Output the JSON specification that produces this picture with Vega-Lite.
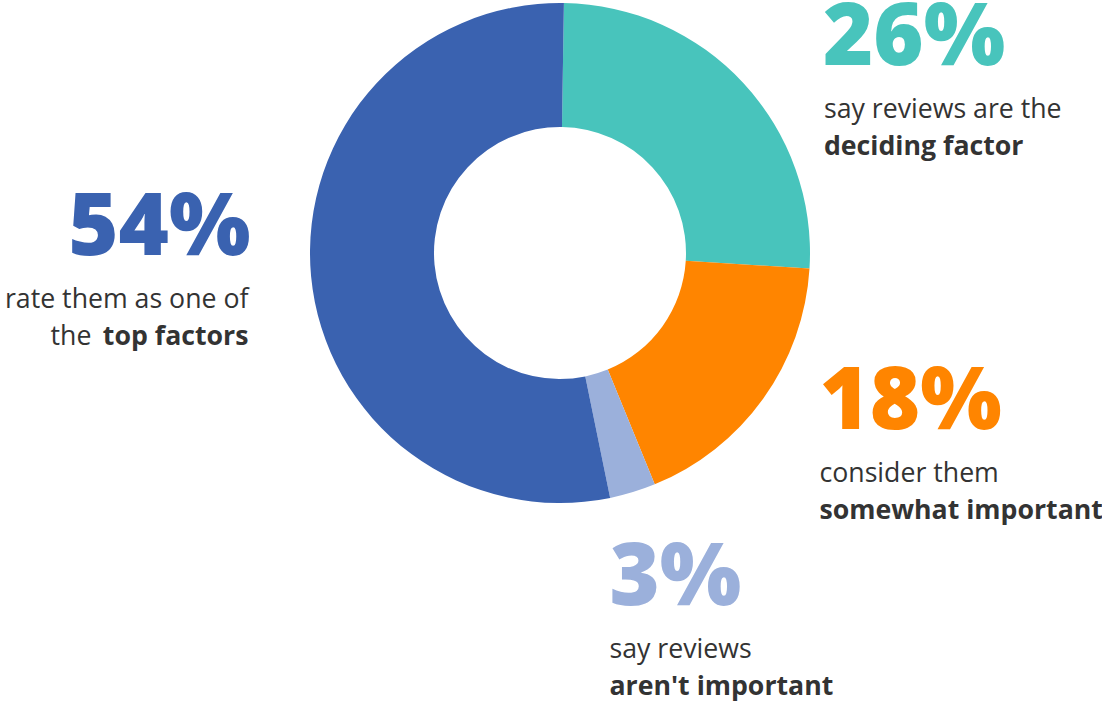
{
  "$schema": "https://vega.github.io/schema/vega-lite/v6.json",
  "autosize": "none",
  "padding": {"left": 18, "top": 3, "right": 0, "bottom": 199},
  "width": 1084,
  "height": 500,
  "background": "white",
  "config": {"view": {"stroke": null}, "text": {"font": "Open Sans"}},
  "data": {
    "values": [
      {"rank": 1, "category": "deciding", "share": 26, "pct": "26%", "line1": "say reviews are the", "line2": "deciding factor", "line2pre": ""},
      {"rank": 2, "category": "somewhat", "share": 18, "pct": "18%", "line1": "consider them", "line2": "somewhat important", "line2pre": ""},
      {"rank": 3, "category": "not", "share": 3, "pct": "3%", "line1": "say reviews", "line2": "aren't important", "line2pre": ""},
      {"rank": 4, "category": "top", "share": 54, "pct": "54%", "line1": "rate them as one of", "line2": "top factors", "line2pre": "the"}
    ]
  },
  "encoding": {
    "theta": {"field": "share", "type": "quantitative", "stack": true, "scale": {"range": [0.0157, 6.2989]}},
    "order": {"field": "rank", "type": "quantitative"},
    "detail": {"field": "category", "type": "nominal"},
    "color": {
      "field": "category",
      "type": "nominal",
      "scale": {"domain": ["deciding", "somewhat", "not", "top"], "range": ["#48C4BC", "#FF8500", "#9BB0DB", "#3A62B0"]},
      "legend": null
    }
  },
  "layer": [
    {"mark": {"type": "arc", "innerRadius": 126, "outerRadius": 250}},

    {"mark": {"type": "text", "radius": 250, "align": "left", "baseline": "alphabetic", "dx": 79.4, "dy": -17.8, "fontSize": 86, "fontWeight": 800},
     "encoding": {"text": {"condition": {"test": "datum.category === 'deciding'", "field": "pct", "type": "nominal"}, "value": ""}}},
    {"mark": {"type": "text", "radius": 250, "align": "left", "baseline": "alphabetic", "dx": 80.4, "dy": 35.2, "fontSize": 26.7},
     "encoding": {"color": {"value": "#333333"}, "text": {"condition": {"test": "datum.category === 'deciding'", "field": "line1", "type": "nominal"}, "value": ""}}},
    {"mark": {"type": "text", "radius": 250, "align": "left", "baseline": "alphabetic", "dx": 80.4, "dy": 72.2, "fontSize": 26.7, "fontWeight": "bold"},
     "encoding": {"color": {"value": "#333333"}, "text": {"condition": {"test": "datum.category === 'deciding'", "field": "line2", "type": "nominal"}, "value": ""}}},

    {"mark": {"type": "text", "radius": 250, "align": "left", "baseline": "alphabetic", "dx": 56.3, "dy": 29.8, "fontSize": 86, "fontWeight": 800},
     "encoding": {"text": {"condition": {"test": "datum.category === 'somewhat'", "field": "pct", "type": "nominal"}, "value": ""}}},
    {"mark": {"type": "text", "radius": 250, "align": "left", "baseline": "alphabetic", "dx": 56.3, "dy": 82.8, "fontSize": 26.7},
     "encoding": {"color": {"value": "#333333"}, "text": {"condition": {"test": "datum.category === 'somewhat'", "field": "line1", "type": "nominal"}, "value": ""}}},
    {"mark": {"type": "text", "radius": 250, "align": "left", "baseline": "alphabetic", "dx": 56.3, "dy": 119.8, "fontSize": 26.7, "fontWeight": "bold"},
     "encoding": {"color": {"value": "#333333"}, "text": {"condition": {"test": "datum.category === 'somewhat'", "field": "line2", "type": "nominal"}, "value": ""}}},

    {"mark": {"type": "text", "radius": 250, "align": "left", "baseline": "alphabetic", "dx": -23.3, "dy": 112.8, "fontSize": 86, "fontWeight": 800},
     "encoding": {"text": {"condition": {"test": "datum.category === 'not'", "field": "pct", "type": "nominal"}, "value": ""}}},
    {"mark": {"type": "text", "radius": 250, "align": "left", "baseline": "alphabetic", "dx": -23.3, "dy": 165.8, "fontSize": 26.7},
     "encoding": {"color": {"value": "#333333"}, "text": {"condition": {"test": "datum.category === 'not'", "field": "line1", "type": "nominal"}, "value": ""}}},
    {"mark": {"type": "text", "radius": 250, "align": "left", "baseline": "alphabetic", "dx": -23.3, "dy": 202.8, "fontSize": 26.7, "fontWeight": "bold"},
     "encoding": {"color": {"value": "#333333"}, "text": {"condition": {"test": "datum.category === 'not'", "field": "line2", "type": "nominal"}, "value": ""}}},

    {"mark": {"type": "text", "radius": 250, "align": "right", "baseline": "alphabetic", "dx": -60.6, "dy": -21.1, "fontSize": 86, "fontWeight": 800},
     "encoding": {"text": {"condition": {"test": "datum.category === 'top'", "field": "pct", "type": "nominal"}, "value": ""}}},
    {"mark": {"type": "text", "radius": 250, "align": "right", "baseline": "alphabetic", "dx": -62.6, "dy": 31.9, "fontSize": 26.7},
     "encoding": {"color": {"value": "#333333"}, "text": {"condition": {"test": "datum.category === 'top'", "field": "line1", "type": "nominal"}, "value": ""}}},
    {"mark": {"type": "text", "radius": 250, "align": "right", "baseline": "alphabetic", "dx": -62.6, "dy": 68.9, "fontSize": 26.7, "fontWeight": "bold"},
     "encoding": {"color": {"value": "#333333"}, "text": {"condition": {"test": "datum.category === 'top'", "field": "line2", "type": "nominal"}, "value": ""}}},
    {"mark": {"type": "text", "radius": 250, "align": "right", "baseline": "alphabetic", "dx": -219.6, "dy": 68.9, "fontSize": 26.7},
     "encoding": {"color": {"value": "#333333"}, "text": {"condition": {"test": "datum.category === 'top'", "field": "line2pre", "type": "nominal"}, "value": ""}}}
  ]
}
